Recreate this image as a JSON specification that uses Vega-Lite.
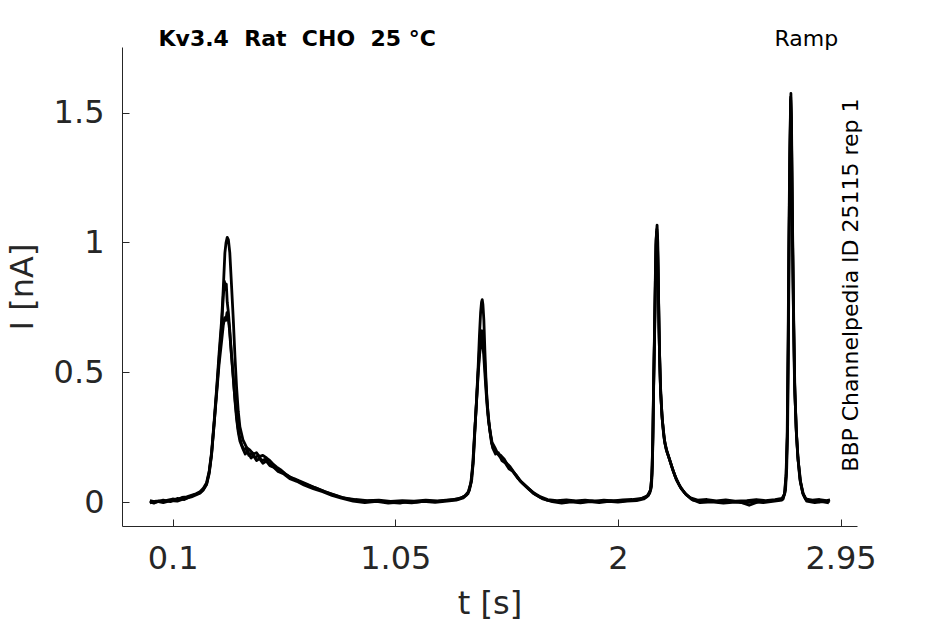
{
  "$schema": "https://vega.github.io/schema/vega-lite/v6.json",
  "description": "Kv3.4 ramp current traces, three repetitions.",
  "autosize": {"type": "none"},
  "width": 735,
  "height": 479,
  "padding": {"left": 122, "top": 47, "right": 88, "bottom": 98},
  "background": "white",
  "config": {
    "view": {"stroke": null},
    "font": "DejaVu Sans",
    "axis": {
      "grid": false,
      "domainColor": "#262626",
      "tickColor": "#262626",
      "labelColor": "#262626",
      "titleColor": "#262626",
      "labelFont": "DejaVu Sans",
      "titleFont": "DejaVu Sans",
      "labelFontSize": 32,
      "titleFontSize": 32,
      "titleFontWeight": "normal",
      "tickSize": -7,
      "labelFlush": false,
      "labelOverlap": false,
      "labelExpr": "'' + datum.value"
    }
  },
  "layer": [
    {
      "data": {
        "values": [
          {"trace":"A","t":0.003,"I":0.002},{"trace":"A","t":0.02,"I":-0.004},{"trace":"A","t":0.04,"I":0.005},{"trace":"A","t":0.06,"I":0.003},{"trace":"A","t":0.08,"I":0.008},{"trace":"A","t":0.10,"I":0.012},{"trace":"A","t":0.12,"I":0.010},{"trace":"A","t":0.14,"I":0.018},{"trace":"A","t":0.16,"I":0.020},{"trace":"A","t":0.18,"I":0.026},{"trace":"A","t":0.20,"I":0.032},{"trace":"A","t":0.2165,"I":0.040},{"trace":"A","t":0.23,"I":0.052},{"trace":"A","t":0.245,"I":0.075},{"trace":"A","t":0.256,"I":0.12},{"trace":"A","t":0.266,"I":0.19},{"trace":"A","t":0.277,"I":0.31},{"trace":"A","t":0.288,"I":0.44},{"trace":"A","t":0.298,"I":0.57},{"trace":"A","t":0.309,"I":0.70},{"trace":"A","t":0.316,"I":0.82},{"trace":"A","t":0.323,"I":0.96},{"trace":"A","t":0.328,"I":1.00},{"trace":"A","t":0.333,"I":1.02},{"trace":"A","t":0.338,"I":1.01},{"trace":"A","t":0.344,"I":0.96},{"trace":"A","t":0.351,"I":0.84},{"trace":"A","t":0.359,"I":0.70},{"trace":"A","t":0.366,"I":0.56},{"trace":"A","t":0.373,"I":0.44},{"trace":"A","t":0.380,"I":0.35},{"trace":"A","t":0.387,"I":0.29},{"trace":"A","t":0.40,"I":0.24},{"trace":"A","t":0.416,"I":0.21},{"trace":"A","t":0.43,"I":0.20},{"trace":"A","t":0.445,"I":0.185},{"trace":"A","t":0.458,"I":0.19},{"trace":"A","t":0.47,"I":0.175},{"trace":"A","t":0.485,"I":0.18},{"trace":"A","t":0.501,"I":0.17},{"trace":"A","t":0.515,"I":0.16},{"trace":"A","t":0.53,"I":0.145},{"trace":"A","t":0.544,"I":0.135},{"trace":"A","t":0.56,"I":0.125},{"trace":"A","t":0.58,"I":0.11},{"trace":"A","t":0.60,"I":0.097},{"trace":"A","t":0.62,"I":0.090},{"trace":"A","t":0.64,"I":0.082},{"trace":"A","t":0.672,"I":0.070},{"trace":"A","t":0.70,"I":0.058},{"trace":"A","t":0.741,"I":0.044},{"trace":"A","t":0.78,"I":0.030},{"trace":"A","t":0.814,"I":0.020},{"trace":"A","t":0.85,"I":0.012},{"trace":"A","t":0.885,"I":0.006},{"trace":"A","t":0.92,"I":0.004},{"trace":"A","t":0.955,"I":0.006},{"trace":"A","t":1.00,"I":0.002},{"trace":"A","t":1.04,"I":-0.002},{"trace":"A","t":1.07,"I":-0.004},{"trace":"A","t":1.10,"I":0.002},{"trace":"A","t":1.14,"I":0.000},{"trace":"A","t":1.18,"I":0.004},{"trace":"A","t":1.22,"I":0.002},{"trace":"A","t":1.26,"I":0.006},{"trace":"A","t":1.30,"I":0.010},{"trace":"A","t":1.33,"I":0.016},{"trace":"A","t":1.354,"I":0.027},{"trace":"A","t":1.366,"I":0.045},{"trace":"A","t":1.376,"I":0.085},{"trace":"A","t":1.383,"I":0.16},{"trace":"A","t":1.390,"I":0.28},{"trace":"A","t":1.397,"I":0.40},{"trace":"A","t":1.404,"I":0.53},{"trace":"A","t":1.409,"I":0.64},{"trace":"A","t":1.414,"I":0.73},{"trace":"A","t":1.418,"I":0.77},{"trace":"A","t":1.421,"I":0.78},{"trace":"A","t":1.424,"I":0.76},{"trace":"A","t":1.428,"I":0.70},{"trace":"A","t":1.432,"I":0.59},{"trace":"A","t":1.437,"I":0.47},{"trace":"A","t":1.441,"I":0.40},{"trace":"A","t":1.446,"I":0.34},{"trace":"A","t":1.453,"I":0.28},{"trace":"A","t":1.461,"I":0.226},{"trace":"A","t":1.475,"I":0.20},{"trace":"A","t":1.496,"I":0.175},{"trace":"A","t":1.52,"I":0.155},{"trace":"A","t":1.54,"I":0.136},{"trace":"A","t":1.56,"I":0.11},{"trace":"A","t":1.58,"I":0.085},{"trace":"A","t":1.61,"I":0.058},{"trace":"A","t":1.638,"I":0.034},{"trace":"A","t":1.67,"I":0.018},{"trace":"A","t":1.696,"I":0.008},{"trace":"A","t":1.73,"I":0.003},{"trace":"A","t":1.77,"I":0.000},{"trace":"A","t":1.81,"I":0.004},{"trace":"A","t":1.85,"I":0.001},{"trace":"A","t":1.89,"I":0.005},{"trace":"A","t":1.93,"I":0.002},{"trace":"A","t":1.97,"I":0.006},{"trace":"A","t":2.008,"I":0.004},{"trace":"A","t":2.05,"I":0.007},{"trace":"A","t":2.09,"I":0.010},{"trace":"A","t":2.122,"I":0.020},{"trace":"A","t":2.136,"I":0.035},{"trace":"A","t":2.143,"I":0.06},{"trace":"A","t":2.147,"I":0.14},{"trace":"A","t":2.150,"I":0.29},{"trace":"A","t":2.153,"I":0.48},{"trace":"A","t":2.157,"I":0.675},{"trace":"A","t":2.161,"I":0.90},{"trace":"A","t":2.164,"I":1.03},{"trace":"A","t":2.167,"I":1.067},{"trace":"A","t":2.170,"I":1.00},{"trace":"A","t":2.173,"I":0.82},{"trace":"A","t":2.175,"I":0.675},{"trace":"A","t":2.179,"I":0.52},{"trace":"A","t":2.182,"I":0.42},{"trace":"A","t":2.190,"I":0.31},{"trace":"A","t":2.200,"I":0.226},{"trace":"A","t":2.211,"I":0.19},{"trace":"A","t":2.222,"I":0.16},{"trace":"A","t":2.236,"I":0.12},{"trace":"A","t":2.250,"I":0.085},{"trace":"A","t":2.27,"I":0.052},{"trace":"A","t":2.293,"I":0.027},{"trace":"A","t":2.321,"I":0.008},{"trace":"A","t":2.36,"I":0.002},{"trace":"A","t":2.40,"I":0.004},{"trace":"A","t":2.44,"I":0.000},{"trace":"A","t":2.48,"I":0.003},{"trace":"A","t":2.52,"I":0.001},{"trace":"A","t":2.56,"I":-0.012},{"trace":"A","t":2.60,"I":0.002},{"trace":"A","t":2.64,"I":0.004},{"trace":"A","t":2.68,"I":0.008},{"trace":"A","t":2.705,"I":0.012},{"trace":"A","t":2.715,"I":0.046},{"trace":"A","t":2.720,"I":0.13},{"trace":"A","t":2.724,"I":0.29},{"trace":"A","t":2.728,"I":0.70},{"trace":"A","t":2.731,"I":1.06},{"trace":"A","t":2.735,"I":1.40},{"trace":"A","t":2.738,"I":1.574},{"trace":"A","t":2.741,"I":1.42},{"trace":"A","t":2.745,"I":1.06},{"trace":"A","t":2.750,"I":0.70},{"trace":"A","t":2.755,"I":0.42},{"trace":"A","t":2.762,"I":0.26},{"trace":"A","t":2.769,"I":0.16},{"trace":"A","t":2.78,"I":0.075},{"trace":"A","t":2.790,"I":0.034},{"trace":"A","t":2.805,"I":0.008},{"trace":"A","t":2.83,"I":0.004},{"trace":"A","t":2.86,"I":0.001},{"trace":"A","t":2.88,"I":0.005},{"trace":"A","t":2.904,"I":0.002},

          {"trace":"B","t":0.003,"I":-0.003},{"trace":"B","t":0.03,"I":0.004},{"trace":"B","t":0.06,"I":-0.002},{"trace":"B","t":0.09,"I":0.006},{"trace":"B","t":0.12,"I":0.004},{"trace":"B","t":0.15,"I":0.013},{"trace":"B","t":0.18,"I":0.020},{"trace":"B","t":0.2165,"I":0.034},{"trace":"B","t":0.23,"I":0.046},{"trace":"B","t":0.245,"I":0.068},{"trace":"B","t":0.256,"I":0.11},{"trace":"B","t":0.266,"I":0.18},{"trace":"B","t":0.277,"I":0.30},{"trace":"B","t":0.288,"I":0.43},{"trace":"B","t":0.298,"I":0.55},{"trace":"B","t":0.309,"I":0.68},{"trace":"B","t":0.316,"I":0.79},{"trace":"B","t":0.321,"I":0.85},{"trace":"B","t":0.325,"I":0.82},{"trace":"B","t":0.329,"I":0.84},{"trace":"B","t":0.333,"I":0.77},{"trace":"B","t":0.338,"I":0.73},{"trace":"B","t":0.344,"I":0.66},{"trace":"B","t":0.351,"I":0.57},{"trace":"B","t":0.359,"I":0.48},{"trace":"B","t":0.366,"I":0.39},{"trace":"B","t":0.373,"I":0.32},{"trace":"B","t":0.38,"I":0.27},{"trace":"B","t":0.387,"I":0.235},{"trace":"B","t":0.40,"I":0.205},{"trace":"B","t":0.41,"I":0.185},{"trace":"B","t":0.42,"I":0.195},{"trace":"B","t":0.435,"I":0.17},{"trace":"B","t":0.445,"I":0.18},{"trace":"B","t":0.458,"I":0.16},{"trace":"B","t":0.47,"I":0.168},{"trace":"B","t":0.485,"I":0.15},{"trace":"B","t":0.50,"I":0.158},{"trace":"B","t":0.515,"I":0.14},{"trace":"B","t":0.53,"I":0.135},{"trace":"B","t":0.55,"I":0.118},{"trace":"B","t":0.575,"I":0.108},{"trace":"B","t":0.60,"I":0.09},{"trace":"B","t":0.63,"I":0.08},{"trace":"B","t":0.66,"I":0.066},{"trace":"B","t":0.70,"I":0.052},{"trace":"B","t":0.74,"I":0.040},{"trace":"B","t":0.78,"I":0.026},{"trace":"B","t":0.82,"I":0.015},{"trace":"B","t":0.87,"I":0.004},{"trace":"B","t":0.92,"I":-0.002},{"trace":"B","t":0.97,"I":0.003},{"trace":"B","t":1.02,"I":-0.004},{"trace":"B","t":1.07,"I":0.000},{"trace":"B","t":1.12,"I":-0.003},{"trace":"B","t":1.17,"I":0.003},{"trace":"B","t":1.22,"I":-0.001},{"trace":"B","t":1.27,"I":0.004},{"trace":"B","t":1.31,"I":0.008},{"trace":"B","t":1.34,"I":0.016},{"trace":"B","t":1.36,"I":0.032},{"trace":"B","t":1.372,"I":0.07},{"trace":"B","t":1.380,"I":0.14},{"trace":"B","t":1.388,"I":0.26},{"trace":"B","t":1.396,"I":0.38},{"trace":"B","t":1.404,"I":0.51},{"trace":"B","t":1.410,"I":0.60},{"trace":"B","t":1.416,"I":0.65},{"trace":"B","t":1.420,"I":0.66},{"trace":"B","t":1.424,"I":0.64},{"trace":"B","t":1.428,"I":0.60},{"trace":"B","t":1.433,"I":0.52},{"trace":"B","t":1.438,"I":0.44},{"trace":"B","t":1.443,"I":0.37},{"trace":"B","t":1.449,"I":0.31},{"trace":"B","t":1.456,"I":0.26},{"trace":"B","t":1.465,"I":0.21},{"trace":"B","t":1.478,"I":0.185},{"trace":"B","t":1.49,"I":0.19},{"trace":"B","t":1.505,"I":0.16},{"trace":"B","t":1.52,"I":0.15},{"trace":"B","t":1.535,"I":0.128},{"trace":"B","t":1.55,"I":0.12},{"trace":"B","t":1.57,"I":0.095},{"trace":"B","t":1.59,"I":0.075},{"trace":"B","t":1.62,"I":0.05},{"trace":"B","t":1.65,"I":0.028},{"trace":"B","t":1.68,"I":0.012},{"trace":"B","t":1.72,"I":0.002},{"trace":"B","t":1.76,"I":-0.004},{"trace":"B","t":1.80,"I":0.001},{"trace":"B","t":1.84,"I":-0.003},{"trace":"B","t":1.88,"I":0.002},{"trace":"B","t":1.92,"I":-0.002},{"trace":"B","t":1.96,"I":0.003},{"trace":"B","t":2.00,"I":0.000},{"trace":"B","t":2.04,"I":0.004},{"trace":"B","t":2.08,"I":0.006},{"trace":"B","t":2.11,"I":0.012},{"trace":"B","t":2.13,"I":0.025},{"trace":"B","t":2.140,"I":0.05},{"trace":"B","t":2.145,"I":0.11},{"trace":"B","t":2.149,"I":0.25},{"trace":"B","t":2.152,"I":0.44},{"trace":"B","t":2.156,"I":0.64},{"trace":"B","t":2.160,"I":0.87},{"trace":"B","t":2.163,"I":1.01},{"trace":"B","t":2.166,"I":1.05},{"trace":"B","t":2.169,"I":1.00},{"trace":"B","t":2.172,"I":0.85},{"trace":"B","t":2.175,"I":0.69},{"trace":"B","t":2.178,"I":0.55},{"trace":"B","t":2.182,"I":0.43},{"trace":"B","t":2.189,"I":0.32},{"trace":"B","t":2.198,"I":0.24},{"trace":"B","t":2.209,"I":0.195},{"trace":"B","t":2.220,"I":0.165},{"trace":"B","t":2.234,"I":0.125},{"trace":"B","t":2.248,"I":0.09},{"trace":"B","t":2.268,"I":0.055},{"trace":"B","t":2.29,"I":0.030},{"trace":"B","t":2.315,"I":0.010},{"trace":"B","t":2.35,"I":-0.002},{"trace":"B","t":2.40,"I":0.001},{"trace":"B","t":2.45,"I":-0.004},{"trace":"B","t":2.50,"I":0.000},{"trace":"B","t":2.54,"I":-0.003},{"trace":"B","t":2.58,"I":0.001},{"trace":"B","t":2.62,"I":-0.002},{"trace":"B","t":2.66,"I":0.003},{"trace":"B","t":2.70,"I":0.008},{"trace":"B","t":2.712,"I":0.035},{"trace":"B","t":2.718,"I":0.11},{"trace":"B","t":2.723,"I":0.27},{"trace":"B","t":2.727,"I":0.66},{"trace":"B","t":2.730,"I":1.02},{"trace":"B","t":2.734,"I":1.36},{"trace":"B","t":2.737,"I":1.55},{"trace":"B","t":2.740,"I":1.44},{"trace":"B","t":2.744,"I":1.10},{"trace":"B","t":2.749,"I":0.73},{"trace":"B","t":2.754,"I":0.45},{"trace":"B","t":2.761,"I":0.27},{"trace":"B","t":2.768,"I":0.17},{"trace":"B","t":2.778,"I":0.08},{"trace":"B","t":2.79,"I":0.03},{"trace":"B","t":2.805,"I":0.004},{"trace":"B","t":2.84,"I":-0.002},{"trace":"B","t":2.87,"I":0.002},{"trace":"B","t":2.90,"I":-0.003},

          {"trace":"C","t":0.003,"I":0.006},{"trace":"C","t":0.03,"I":0.000},{"trace":"C","t":0.06,"I":0.008},{"trace":"C","t":0.09,"I":0.002},{"trace":"C","t":0.12,"I":0.014},{"trace":"C","t":0.15,"I":0.010},{"trace":"C","t":0.18,"I":0.024},{"trace":"C","t":0.2165,"I":0.036},{"trace":"C","t":0.23,"I":0.048},{"trace":"C","t":0.245,"I":0.07},{"trace":"C","t":0.256,"I":0.115},{"trace":"C","t":0.266,"I":0.185},{"trace":"C","t":0.277,"I":0.30},{"trace":"C","t":0.288,"I":0.42},{"trace":"C","t":0.298,"I":0.53},{"trace":"C","t":0.309,"I":0.62},{"trace":"C","t":0.316,"I":0.68},{"trace":"C","t":0.322,"I":0.71},{"trace":"C","t":0.327,"I":0.70},{"trace":"C","t":0.332,"I":0.73},{"trace":"C","t":0.337,"I":0.71},{"trace":"C","t":0.342,"I":0.67},{"trace":"C","t":0.348,"I":0.60},{"trace":"C","t":0.355,"I":0.52},{"trace":"C","t":0.362,"I":0.44},{"trace":"C","t":0.37,"I":0.36},{"trace":"C","t":0.378,"I":0.29},{"trace":"C","t":0.386,"I":0.25},{"trace":"C","t":0.395,"I":0.22},{"trace":"C","t":0.405,"I":0.20},{"trace":"C","t":0.415,"I":0.21},{"trace":"C","t":0.425,"I":0.18},{"trace":"C","t":0.44,"I":0.19},{"trace":"C","t":0.452,"I":0.17},{"trace":"C","t":0.465,"I":0.18},{"trace":"C","t":0.48,"I":0.16},{"trace":"C","t":0.495,"I":0.165},{"trace":"C","t":0.51,"I":0.15},{"trace":"C","t":0.525,"I":0.14},{"trace":"C","t":0.54,"I":0.13},{"trace":"C","t":0.56,"I":0.12},{"trace":"C","t":0.585,"I":0.105},{"trace":"C","t":0.61,"I":0.092},{"trace":"C","t":0.64,"I":0.078},{"trace":"C","t":0.67,"I":0.068},{"trace":"C","t":0.71,"I":0.055},{"trace":"C","t":0.75,"I":0.040},{"trace":"C","t":0.79,"I":0.028},{"trace":"C","t":0.83,"I":0.016},{"trace":"C","t":0.88,"I":0.010},{"trace":"C","t":0.93,"I":0.006},{"trace":"C","t":0.98,"I":0.008},{"trace":"C","t":1.03,"I":0.003},{"trace":"C","t":1.08,"I":0.006},{"trace":"C","t":1.13,"I":0.004},{"trace":"C","t":1.18,"I":0.008},{"trace":"C","t":1.23,"I":0.005},{"trace":"C","t":1.28,"I":0.009},{"trace":"C","t":1.32,"I":0.012},{"trace":"C","t":1.345,"I":0.022},{"trace":"C","t":1.362,"I":0.04},{"trace":"C","t":1.374,"I":0.08},{"trace":"C","t":1.382,"I":0.15},{"trace":"C","t":1.389,"I":0.27},{"trace":"C","t":1.397,"I":0.39},{"trace":"C","t":1.404,"I":0.50},{"trace":"C","t":1.410,"I":0.57},{"trace":"C","t":1.415,"I":0.61},{"trace":"C","t":1.419,"I":0.62},{"trace":"C","t":1.423,"I":0.61},{"trace":"C","t":1.427,"I":0.57},{"trace":"C","t":1.432,"I":0.50},{"trace":"C","t":1.437,"I":0.43},{"trace":"C","t":1.442,"I":0.37},{"trace":"C","t":1.448,"I":0.31},{"trace":"C","t":1.455,"I":0.27},{"trace":"C","t":1.463,"I":0.23},{"trace":"C","t":1.475,"I":0.21},{"trace":"C","t":1.488,"I":0.185},{"trace":"C","t":1.50,"I":0.18},{"trace":"C","t":1.515,"I":0.165},{"trace":"C","t":1.53,"I":0.14},{"trace":"C","t":1.545,"I":0.125},{"trace":"C","t":1.565,"I":0.105},{"trace":"C","t":1.585,"I":0.08},{"trace":"C","t":1.61,"I":0.06},{"trace":"C","t":1.64,"I":0.036},{"trace":"C","t":1.67,"I":0.02},{"trace":"C","t":1.70,"I":0.010},{"trace":"C","t":1.74,"I":0.006},{"trace":"C","t":1.78,"I":0.009},{"trace":"C","t":1.82,"I":0.005},{"trace":"C","t":1.86,"I":0.008},{"trace":"C","t":1.90,"I":0.004},{"trace":"C","t":1.94,"I":0.008},{"trace":"C","t":1.98,"I":0.005},{"trace":"C","t":2.02,"I":0.009},{"trace":"C","t":2.06,"I":0.010},{"trace":"C","t":2.10,"I":0.014},{"trace":"C","t":2.125,"I":0.024},{"trace":"C","t":2.138,"I":0.045},{"trace":"C","t":2.144,"I":0.09},{"trace":"C","t":2.148,"I":0.20},{"trace":"C","t":2.151,"I":0.38},{"trace":"C","t":2.155,"I":0.60},{"trace":"C","t":2.159,"I":0.84},{"trace":"C","t":2.162,"I":0.99},{"trace":"C","t":2.165,"I":1.04},{"trace":"C","t":2.168,"I":1.02},{"trace":"C","t":2.171,"I":0.90},{"trace":"C","t":2.174,"I":0.74},{"trace":"C","t":2.177,"I":0.59},{"trace":"C","t":2.181,"I":0.46},{"trace":"C","t":2.187,"I":0.34},{"trace":"C","t":2.195,"I":0.26},{"trace":"C","t":2.205,"I":0.205},{"trace":"C","t":2.216,"I":0.175},{"trace":"C","t":2.230,"I":0.135},{"trace":"C","t":2.244,"I":0.10},{"trace":"C","t":2.262,"I":0.065},{"trace":"C","t":2.285,"I":0.035},{"trace":"C","t":2.31,"I":0.016},{"trace":"C","t":2.34,"I":0.008},{"trace":"C","t":2.38,"I":0.010},{"trace":"C","t":2.42,"I":0.005},{"trace":"C","t":2.46,"I":0.009},{"trace":"C","t":2.50,"I":0.004},{"trace":"C","t":2.55,"I":0.006},{"trace":"C","t":2.59,"I":0.010},{"trace":"C","t":2.63,"I":0.006},{"trace":"C","t":2.67,"I":0.010},{"trace":"C","t":2.70,"I":0.014},{"trace":"C","t":2.71,"I":0.030},{"trace":"C","t":2.717,"I":0.10},{"trace":"C","t":2.722,"I":0.25},{"trace":"C","t":2.726,"I":0.60},{"trace":"C","t":2.729,"I":0.98},{"trace":"C","t":2.733,"I":1.33},{"trace":"C","t":2.737,"I":1.56},{"trace":"C","t":2.740,"I":1.48},{"trace":"C","t":2.743,"I":1.16},{"trace":"C","t":2.748,"I":0.78},{"trace":"C","t":2.753,"I":0.48},{"trace":"C","t":2.760,"I":0.29},{"trace":"C","t":2.767,"I":0.18},{"trace":"C","t":2.776,"I":0.09},{"trace":"C","t":2.788,"I":0.036},{"trace":"C","t":2.80,"I":0.012},{"trace":"C","t":2.83,"I":0.008},{"trace":"C","t":2.86,"I":0.010},{"trace":"C","t":2.89,"I":0.006},{"trace":"C","t":2.905,"I":0.009}
        ]
      },
      "mark": {"type": "line", "color": "black", "strokeWidth": 2.8, "strokeJoin": "round", "clip": true},
      "encoding": {
        "x": {
          "field": "t",
          "type": "quantitative",
          "title": "t [s]",
          "scale": {"domain": [-0.116, 3.02], "nice": false, "zero": false},
          "axis": {"values": [0.1, 1.05, 2, 2.95], "labelPadding": 24, "titlePadding": 14}
        },
        "y": {
          "field": "I",
          "type": "quantitative",
          "title": "I [nA]",
          "scale": {"domain": [-0.092, 1.753], "nice": false, "zero": false},
          "axis": {"values": [0, 0.5, 1, 1.5], "labelPadding": 25, "titlePadding": 14}
        },
        "detail": {"field": "trace", "type": "nominal"}
      }
    },
    {
      "data": {
        "values": [
          {"label": "Kv3.4\u00a0\u00a0Rat\u00a0\u00a0CHO\u00a0\u00a025\u00a0°C", "t": 0.04, "I": 1.755}
        ]
      },
      "mark": {"type": "text", "align": "left", "baseline": "alphabetic", "fontSize": 22, "fontWeight": "bold", "color": "black", "font": "DejaVu Sans"},
      "encoding": {
        "x": {"field": "t", "type": "quantitative"},
        "y": {"field": "I", "type": "quantitative"},
        "text": {"field": "label"}
      }
    },
    {
      "data": {
        "values": [
          {"label": "Ramp", "t": 2.94, "I": 1.758}
        ]
      },
      "mark": {"type": "text", "align": "right", "baseline": "alphabetic", "fontSize": 22, "color": "black", "font": "DejaVu Sans"},
      "encoding": {
        "x": {"field": "t", "type": "quantitative"},
        "y": {"field": "I", "type": "quantitative"},
        "text": {"field": "label"}
      }
    },
    {
      "data": {
        "values": [
          {"label": "BBP Channelpedia ID 25115 rep 1", "t": 2.993, "I": 0.836}
        ]
      },
      "mark": {"type": "text", "align": "center", "baseline": "middle", "angle": 270, "fontSize": 22, "color": "black", "font": "DejaVu Sans"},
      "encoding": {
        "x": {"field": "t", "type": "quantitative"},
        "y": {"field": "I", "type": "quantitative"},
        "text": {"field": "label"}
      }
    }
  ]
}
